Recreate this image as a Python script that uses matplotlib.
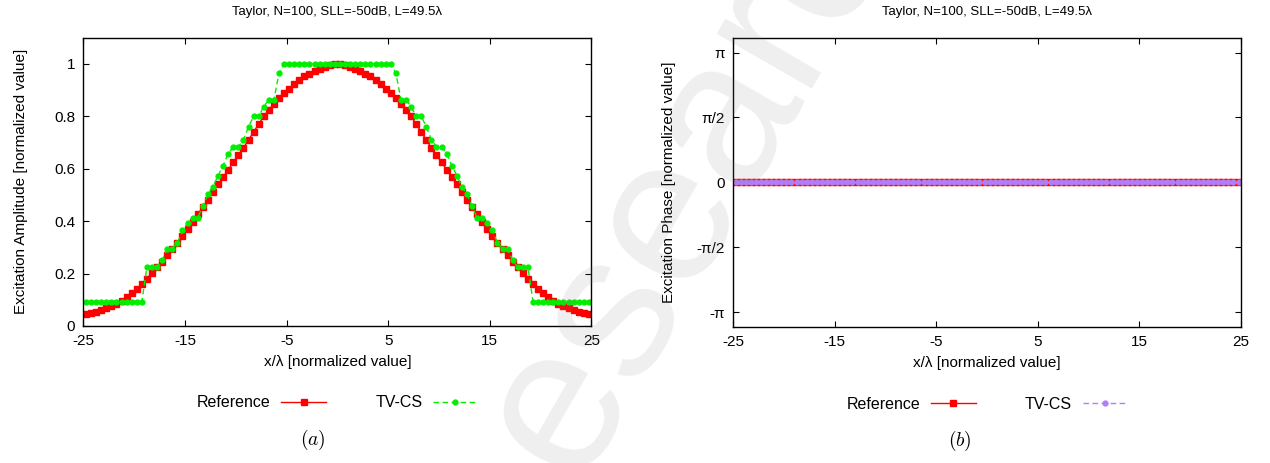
import numpy as np
import matplotlib
matplotlib.use("Agg")
import matplotlib.pyplot as plt

plt.rcParams["font.family"] = ["Liberation Sans", "DejaVu Sans"]
plt.rcParams["mathtext.fontset"] = "cm"
plt.rcParams["axes.unicode_minus"] = False

# element positions (N=100, spacing 0.5 lambda)
x_pos = np.arange(-24.75, 25.0, 0.5)

# excitation amplitudes
amp_ref = [
    0.047, 0.050, 0.055, 0.060, 0.067, 0.075, 0.085, 0.096, 0.109, 0.124,
    0.141, 0.160, 0.181, 0.204, 0.225, 0.246, 0.269, 0.294, 0.318, 0.344,
    0.370, 0.398, 0.426, 0.454, 0.482, 0.511, 0.540, 0.568, 0.596, 0.624,
    0.652, 0.680, 0.710, 0.740, 0.771, 0.800, 0.824, 0.848, 0.870, 0.889,
    0.906, 0.923, 0.940, 0.952, 0.963, 0.972, 0.980, 0.988, 0.995, 1.000,
    1.000, 0.995, 0.988, 0.980, 0.972, 0.963, 0.952, 0.940, 0.923, 0.906,
    0.889, 0.870, 0.848, 0.824, 0.800, 0.771, 0.740, 0.710, 0.680, 0.652,
    0.624, 0.596, 0.568, 0.540, 0.511, 0.482, 0.454, 0.426, 0.398, 0.370,
    0.344, 0.318, 0.294, 0.269, 0.246, 0.225, 0.204, 0.181, 0.160, 0.141,
    0.124, 0.109, 0.096, 0.085, 0.075, 0.067, 0.060, 0.055, 0.050, 0.047,
]
amp_tvcs = [
    0.093, 0.093, 0.093, 0.093, 0.093, 0.093, 0.093, 0.093, 0.093, 0.093,
    0.093, 0.093, 0.225, 0.225, 0.225, 0.250, 0.295, 0.295, 0.317, 0.365,
    0.393, 0.413, 0.413, 0.457, 0.502, 0.532, 0.574, 0.612, 0.657, 0.684,
    0.684, 0.710, 0.760, 0.800, 0.800, 0.837, 0.864, 0.864, 0.965, 1.000,
    1.000, 1.000, 1.000, 1.000, 1.000, 1.000, 1.000, 1.000, 1.000, 1.000,
    1.000, 1.000, 1.000, 1.000, 1.000, 1.000, 1.000, 1.000, 1.000, 1.000,
    1.000, 0.965, 0.864, 0.864, 0.837, 0.800, 0.800, 0.760, 0.710, 0.684,
    0.684, 0.657, 0.612, 0.574, 0.532, 0.502, 0.457, 0.413, 0.413, 0.393,
    0.365, 0.317, 0.295, 0.295, 0.250, 0.225, 0.225, 0.225, 0.093, 0.093,
    0.093, 0.093, 0.093, 0.093, 0.093, 0.093, 0.093, 0.093, 0.093, 0.093,
]

# excitation phases (all zero)
phase_ref = [0.0] * 100
phase_tvcs = [0.0] * 100

title = "Taylor, N=100, SLL=-50dB, L=49.5λ"
x_ticks = [-25, -15, -5, 5, 15, 25]
amp_ticks = [0, 0.2, 0.4, 0.6, 0.8, 1]
phase_ticks = [-np.pi, -np.pi / 2, 0, np.pi / 2, np.pi]
phase_labels = ["-π", "-π/2", "0", "π/2", "π"]

fig = plt.figure(figsize=(12.7, 4.63), dpi=100)
ax1 = fig.add_axes([0.0657, 0.2959, 0.4, 0.6227])
ax2 = fig.add_axes([0.5772, 0.2937, 0.4, 0.6249])


def style_axes(ax):
    ax.set_xlim(-25, 25)
    ax.set_xticks(x_ticks)
    ax.tick_params(direction="in", length=4.5, width=0.8, top=True, right=True,
                   labelsize=11, pad=6, colors="black")
    for s in ax.spines.values():
        s.set_linewidth(1.0)
    ax.set_title(title, fontsize=9.5, pad=16)
    ax.set_xlabel("x/λ [normalized value]", fontsize=11, labelpad=5)


# (a) amplitude
ax1.plot(x_pos, amp_ref, color="red", lw=1.0, marker="s", ms=5,
         mec="red", mfc="red", label="Reference")
ax1.plot(x_pos, amp_tvcs, color="#00ee00", lw=1.0, ls=(0, (4, 2.5)), marker="o",
         ms=3.5, mec="#00ee00", mfc="#00ee00", label="TV-CS")
ax1.set_ylim(0, 1.1)
ax1.set_yticks(amp_ticks)
ax1.set_yticklabels(["0", "0.2", "0.4", "0.6", "0.8", "1"])
ax1.set_ylabel("Excitation Amplitude [normalized value]", fontsize=11, labelpad=19)
style_axes(ax1)

# (b) phase
ax2.plot(x_pos, phase_ref, color="red", lw=1.0, marker="s", ms=5,
         mec="red", mfc="red", label="Reference")
ax2.plot(x_pos, phase_tvcs, color="#b07ef7", lw=1.0, ls=(0, (4, 2.5)), marker="o",
         ms=3.5, mec="#b07ef7", mfc="#b07ef7", label="TV-CS")
ax2.set_ylim(-3.5, 3.5)
ax2.set_yticks(phase_ticks)
ax2.set_yticklabels(phase_labels)
ax2.set_ylabel("Excitation Phase [normalized value]", fontsize=11, labelpad=15)
style_axes(ax2)

for ax, tag, tx in [(ax1, "$(a)$", 0.452), (ax2, "$(b)$", 0.447)]:
    ax.legend(loc="center", bbox_to_anchor=(0.5, -0.267), ncol=2, frameon=False,
              markerfirst=False, numpoints=1, handlelength=2.8,
              handletextpad=0.65, columnspacing=3.1, fontsize=11.5)
    ax.text(tx, -0.395, tag, transform=ax.transAxes, ha="center", va="center",
            fontsize=14)

# faint watermark
fig.text(0.562, 0.706, "esearch", rotation=60, rotation_mode="anchor",
         ha="center", va="center", fontsize=150, color="0.5", alpha=0.13,
         zorder=10, family="Liberation Sans")

fig.savefig("out.png", dpi=100)
